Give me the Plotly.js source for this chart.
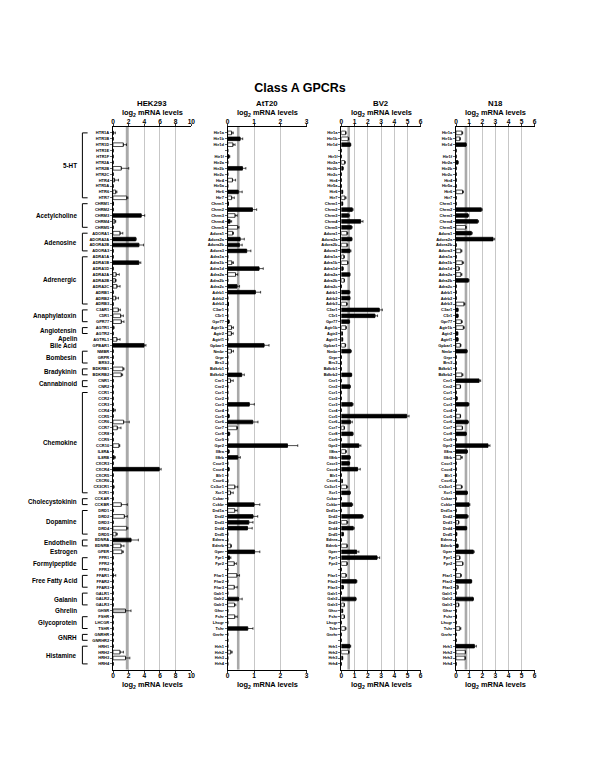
<!DOCTYPE html>
<html><head><meta charset="utf-8">
<script src="https://cdn.plot.ly/plotly-3.0.1.min.js"></script>
<style>html,body{margin:0;padding:0;background:#fff}#chart{width:600px;height:776px}</style>
</head><body><div id="chart"></div>
<script>
// ---------- categories ----------
const humanLabels = [
 'HTR1A','HTR1B','HTR1D','HTR1E','HTR1F','HTR2A','HTR2B','HTR2C','HTR4','HTR5A','HTR6','HTR7',
 'CHRM1','CHRM2','CHRM3','CHRM4','CHRM5',
 'ADORA1','ADORA2A','ADORA2B','ADORA3',
 'ADRA1A','ADRA1B','ADRA1D','ADRA2A','ADRA2B','ADRA2C','ADRB1','ADRB2','ADRB3',
 'C3AR1','C5R1','GPR77',
 'AGTR1','AGTR2',
 'AGTRL1',
 'GPBAR1',
 'NMBR','GRPR','BRS3',
 'BDKRB1','BDKRB2',
 'CNR1','CNR2',
 'CCR1','CCR2','CCR3','CCR4','CCR5','CCR6','CCR7','CCR8','CCR9','CCR10','IL8RA','IL8RB','CXCR3','CXCR4','CXCR5','CXCR6','CX3CR1','XCR1',
 'CCKAR','CCKBR',
 'DRD1','DRD2','DRD3','DRD4','DRD5',
 'EDNRA','EDNRB',
 'GPER',
 'FPR1','FPR2','FPR3',
 'FFAR1','FFAR2','FFAR3',
 'GALR1','GALR2','GALR3',
 'GHSR',
 'FSHR','LHCGR','TSHR',
 'GNRHR','GNRHR2',
 'HRH1','HRH2','HRH3','HRH4'];
const mouseLabels = [
 'Htr1a','Htr1b','Htr1d','','Htr1f','Htr2a','Htr2b','Htr2c','Htr4','Htr5a','Htr6','Htr7',
 'Chrm1','Chrm2','Chrm3','Chrm4','Chrm5',
 'Adora1','Adora2a','Adora2b','Adora3',
 'Adra1a','Adra1b','Adra1d','Adra2a','Adra2b','Adra2c','Adrb1','Adrb2','Adrb3',
 'C3ar1','C5r1','Gpr77',
 'Agtr1b','Agtr2',
 'Agtrl1',
 'Gpbar1',
 'Nmbr','Grpr','Brs3',
 'Bdkrb1','Bdkrb2',
 'Cnr1','Cnr2',
 'Ccr1','Ccr2','Ccr3','Ccr4','Ccr5','Ccr6','Ccr7','Ccr8','Ccr9','Gpr2','Il8ra','Il8rb','Cxcr3','Cxcr4','Blr1','Cxcr6','Cx3cr1','Xcr1',
 'Cckar','Cckbr',
 'Drd1a','Drd2','Drd3','Drd4','Drd5',
 'Ednra','Ednrb',
 'Gper',
 'Fpr1','Fpr2','',
 'Ffar1','Ffar2','Ffar3',
 'Galr1','Galr2','Galr3',
 'Ghsr',
 'Fshr','Lhcgr','Tshr',
 'Gnrhr','',
 'Hrh1','Hrh2','Hrh3','Hrh4'];
const groupNames = ['5-HT','Acetylcholine','Adenosine','Adrenergic','Anaphylatoxin','Angiotensin','Apelin','Bile Acid',
 'Bombesin','Bradykinin','Cannabinoid','Chemokine','Cholecystokinin','Dopamine','Endothelin','Estrogen',
 'Formylpeptide','Free Fatty Acid','Galanin','Ghrelin','Glycoprotein','GNRH','Histamine'];
const groupSizes = [12,5,4,9,3,2,1,1,3,2,2,18,2,5,2,1,3,3,3,1,3,2,4];

const panelNames = ['HEK293','AtT20','BV2','N18'];
const axisMax = [10,3,6,6];
const axisStep = [2,1,1,1];
const thresholds = [1.8,0.4,0.56,0.76];

// ---------- values (log2 mRNA levels), errors, fill codes k=black w=white g=gray ----------
const hekVal = [
 0.05,0,1.32,0,0,0,1.06,0,0.2,0,0.35,1.75,
 0.05,0,3.6,0.25,0,
 0.9,2.9,3.3,0,
 0,3.3,0,0.4,0.3,0.5,0,0.35,0,
 0.68,0.98,1.06,
 0.05,0,
 0.5,
 3.96,
 0,0,0,
 1.28,1.06,
 0,0,
 0,0,0,0.1,0,1.36,0.55,0,0,0.77,0,0.15,0,5.9,0,0,0.05,0,
 0,1.06,
 0,1.45,0,1.75,0.4,
 2.3,1.02,
 1.15,
 0,0,0,
 0.05,0,0,
 0,0,0,
 1.6,
 0,0,0,
 0,0,
 0,0.9,1.6,0];
const hekErr = [
 0.25,0,0.4,0,0,0,0.95,0,0.5,0,0.15,0.15,
 0,0,0.45,0.1,0,
 0.35,0.05,0.6,0,
 0,0.25,0,0.4,0.1,0.4,0,0.35,0,
 0.26,0.34,0.34,
 0.1,0,
 0.4,
 0.25,
 0,0,0,
 0.13,0.17,
 0,0,
 0,0,0,0.2,0,0.72,0.47,0,0,0.1,0,0.15,0,0.25,0,0,0.1,0,
 0,0.77,
 0,0.38,0,0.15,0.15,
 0.94,0.38,
 0.17,
 0,0,0,
 0.3,0,0,
 0,0,0,
 0.7,
 0,0,0,
 0,0,
 0,0.43,0.55,0];
const hekCol = [
 'w','w','w','w','w','w','w','w','w','w','w','w',
 'k','k','k','w','k',
 'w','k','k','k',
 'k','k','k','w','w','w','k','w','k',
 'w','w','w',
 'w','w',
 'w',
 'k',
 'k','k','k',
 'w','w',
 'k','k',
 'k','k','k','k','k','w','w','k','k','w','k','k','k','k','k','k','w','k',
 'k','w',
 'k','w','k','w','w',
 'k','w',
 'w',
 'k','k','k',
 'w','k','k',
 'k','k','k',
 'g',
 'k','k','k',
 'k','k',
 'k','w','w','k'];

const att20Val = [
 0.15,0.47,0.2,0,0.05,0,0.56,0,0.18,0,0.4,0.15,
 0.03,0.94,0.28,0.09,0.38,
 0.19,0.47,0.44,0.72,
 0,0.16,1.19,0.3,0,0.35,1.05,0,0.03,
 0,0,0.05,
 0.15,0.14,
 0,
 1.38,
 0.14,0,0,
 0,0.53,
 0.11,0,
 0,0,0.82,0,0.05,0.95,0.35,0.06,0,2.27,0.05,0.38,0,0.05,0,0,0.27,0.11,
 0,1.0,
 0.27,0.96,0.8,0.75,0,
 0,0.12,
 1.02,
 0.07,0.25,0,
 0.35,0,0.25,
 0,0.41,0.26,
 0,
 0.27,0,0.76,
 0,0,
 0,0.12,0,0];
const att20Err = [
 0.06,0.1,0.08,0,0.03,0,0.13,0,0.12,0,0.15,0.1,
 0,0.16,0.08,0.06,0.05,
 0.03,0.16,0.11,0.16,
 0,0.06,0.16,0.08,0,0.1,0.2,0,0,
 0,0,0,
 0.07,0.07,
 0,
 0.19,
 0.08,0,0,
 0,0.1,
 0.1,0,
 0,0,0.19,0,0,0.2,0.02,0.02,0,0.39,0,0.1,0,0,0,0,0.11,0.1,
 0,0.22,
 0.09,0.18,0.16,0.18,0,
 0,0.02,
 0.2,
 0.05,0.08,0,
 0.1,0,0.11,
 0,0.14,0.05,
 0,
 0.09,0,0.2,
 0,0,
 0,0.05,0,0];
const att20Col = [
 'w','k','w','k','k','k','k','k','w','k','k','w',
 'k','k','w','k','w',
 'w','k','k','k',
 'k','w','k','w','k','k','k','k','k',
 'k','k','k',
 'w','w',
 'k',
 'k',
 'w','k','k',
 'k','k',
 'w','k',
 'k','k','k','k','k','k','w','k','k','k','k','k','k','k','k','k','w','w',
 'k','k',
 'w','k','k','k','k',
 'k','w',
 'k',
 'k','w','k',
 'w','k','w',
 'k','k','w',
 'k',
 'w','k','k',
 'k','k',
 'k','w','k','k'];

const bv2Val = [
 0.33,0.53,0.68,0,0,0.25,0.13,0,0,0,0.1,0.28,
 0.1,0.83,0.55,1.46,0.76,
 0.43,0.78,0.43,0.65,
 0.2,0.48,0.13,0.63,0.22,0,0.6,0.63,0.4,
 2.87,2.54,0.6,
 0.35,0.08,
 0.1,
 0.3,
 0.7,0,0,
 0,0.76,
 0,0.65,
 0,0,0.83,0,4.94,0.68,0.22,0.86,0,1.33,0.33,0.65,0.6,1.23,0,0.08,0.4,0.65,
 0,0.8,
 0,1.6,0.43,0.9,0.15,
 0,0.43,
 1.16,
 2.7,0.43,0,
 0.35,1.13,0.15,
 0,1.08,0.22,
 0.1,
 0.22,0,0.3,
 0,0,
 0.65,0.55,0.1,0];
const bv2Err = [
 0.03,0.04,0.04,0,0,0.06,0,0,0,0,0,0.08,
 0,0.06,0.08,0.18,0.06,
 0.06,0.03,0.06,0.08,
 0.03,0.03,0,0.03,0.02,0,0.06,0.03,0.06,
 0.23,0.2,0.03,
 0.03,0,
 0,
 0.03,
 0.06,0,0,
 0,0.03,
 0,0.03,
 0,0,0.06,0,0.18,0.15,0.02,0.03,0,0.15,0.06,0.03,0.03,0.2,0,0,0.08,0.03,
 0,0.06,
 0,0.07,0.06,0.08,0,
 0,0.02,
 0.17,
 0.2,0.02,0,
 0.04,0.05,0,
 0,0.05,0.02,
 0,
 0.02,0,0.06,
 0,0,
 0.06,0.04,0,0];
const bv2Col = [
 'w','w','k','k','k','w','k','k','k','k','k','w',
 'k','k','k','k','k',
 'w','k','w','k',
 'w','w','k','k','w','k','k','k','w',
 'k','k','k',
 'w','k',
 'k',
 'w',
 'k','k','k',
 'k','k',
 'k','k',
 'k','k','k','k','k','k','w','k','k','k','w','k','k','k','k','k','w','k',
 'k','k',
 'k','k','w','k','k',
 'k','w',
 'k',
 'k','w','k',
 'w','k','k',
 'k','k','w',
 'k',
 'w','k','w',
 'k','k',
 'k','w','k','k'];

const n18Val = [
 0.46,0.3,0.76,0,0,0.15,0,0,0,0,0.5,0,
 0,1.93,0.92,1.65,0.74,
 1.17,2.82,0,0.38,
 0,0.48,0.23,0.38,0.94,0,0,0,0.61,
 0.15,0.15,0.41,
 0.56,0.13,
 0.15,
 0.33,
 0.81,0,0,
 0,0.46,
 1.76,0.33,
 0,0.08,0.94,0,0.33,0.89,0.48,0.76,0,2.44,0.84,0.38,0,0,0,0,0.41,0.84,
 0,0.99,
 0,0.86,0.2,0.79,0.05,
 0,0.15,
 1.32,
 0.28,0.51,0,
 0.36,1.17,0.15,
 0,1.3,0.2,
 0,
 0.03,0,0.3,
 0,0,
 1.4,0.71,0.69,0];
const n18Err = [
 0.05,0.02,0.02,0,0,0,0,0,0,0,0.07,0,
 0,0.07,0.05,0.07,0.05,
 0.07,0.13,0,0.07,
 0,0.1,0.02,0.07,0.05,0,0,0,0.07,
 0,0,0.07,
 0.07,0,
 0,
 0.05,
 0.05,0,0,
 0,0.07,
 0.12,0.02,
 0,0,0.05,0,0.02,0.07,0.02,0.03,0,0.15,0.03,0.1,0,0,0,0,0.07,0.03,
 0,0.07,
 0,0.07,0.02,0.03,0,
 0,0,
 0.07,
 0.02,0.02,0,
 0.05,0.03,0,
 0,0.03,0.02,
 0,
 0,0,0.07,
 0,0,
 0.15,0.02,0.02,0];
const n18Col = [
 'w','w','k','k','k','k','k','k','k','k','w','k',
 'k','k','k','k','w',
 'k','k','k','w',
 'k','w','w','w','k','k','k','k','w',
 'k','k','w',
 'w','k',
 'k',
 'w',
 'k','k','k',
 'k','w',
 'k','w',
 'k','k','k','k','w','k','w','k','k','k','k','w','k','k','k','k','w','k',
 'k','k',
 'k','k','w','k','k',
 'k','k',
 'k',
 'w','w','k',
 'w','k','w',
 'k','k','w',
 'k',
 'k','k','w',
 'k','k',
 'k','w','w','k'];

// ---------- geometry helpers ----------
const W = 600, H = 776;
const px = v => v / W;
const py = v => 1 - v / H;
const plotTop = 127, plotBot = 669.8;
const xPix = [[113,191.3],[227.7,306.7],[341.3,420.7],[456,534.7]];
const FONT = 'Liberation Sans, Arial, Helvetica, sans-serif';
const fillMap = {k:'#000000', w:'#ffffff', g:'#c6c6c6'};

const vals = [hekVal, att20Val, bv2Val, n18Val];
const errs = [hekErr, att20Err, bv2Err, n18Err];
const cols = [hekCol, att20Col, bv2Col, n18Col];
const rowIdx = humanLabels.map((_, i) => i);

const traces = [];
const layout = {
  width: W, height: H,
  margin: {l:0, r:0, t:0, b:0},
  paper_bgcolor: '#fff', plot_bgcolor: 'rgba(0,0,0,0)',
  showlegend: false,
  bargap: 0,
  title: {text: 'Class A GPCRs', font: {family: FONT, size: 12.5, color: '#000', weight: 'bold'},
          x: 0.5, xanchor: 'center', y: py(88), yanchor: 'middle', xref: 'paper', yref: 'paper'},
  shapes: [], annotations: []
};

for (let p = 0; p < 4; p++) {
  const n = p + 1;
  const xa = 'x' + (p === 0 ? '' : n), ya = 'y' + (p === 0 ? '' : n);
  const xo = 'x' + (n + 4);
  const dom = [px(xPix[p][0]), px(xPix[p][1])];
  const err = errs[p].map(e => e > 0 ? e : null);
  const errMinus = errs[p].map(e => e > 0 ? 0 : null);
  traces.push({
    type: 'bar', orientation: 'h',
    x: vals[p], y: rowIdx, xaxis: xa, yaxis: ya,
    width: 0.62,
    marker: {color: cols[p].map(c => fillMap[c]), line: {color: '#000', width: 0.7}},
    error_x: {type: 'data', symmetric: false, array: err, arrayminus: errMinus,
              color: '#000', thickness: 0.7, width: 1.3},
    hoverinfo: 'x+y'
  });
  // carrier for the bottom tick axis
  traces.push({type: 'scatter', mode: 'markers', x: [], y: [], xaxis: xo, yaxis: ya,
               hoverinfo: 'skip', showlegend: false});

  const tickvals = [];
  for (let t = 0; t <= axisMax[p]; t += axisStep[p]) tickvals.push(t);
  const common = {
    domain: dom, range: [0, axisMax[p]], tickvals: tickvals,
    ticks: 'outside', ticklen: 2.5, tickwidth: 0.8, tickcolor: '#000',
    ticklabelstandoff: -3,
    showline: true, linecolor: '#000', linewidth: 1, zeroline: false,
    tickfont: {family: FONT, size: 6.6, color: '#000', weight: 'bold'},
    fixedrange: true
  };
  layout['xaxis' + (p === 0 ? '' : n)] = Object.assign({}, common, {
    anchor: ya, side: 'top', showgrid: true, gridcolor: '#b9b9b9', gridwidth: 0.8
  });
  layout['xaxis' + (n + 4)] = Object.assign({}, common, {
    anchor: ya, overlaying: xa, side: 'bottom', showgrid: false
  });
  layout['yaxis' + (p === 0 ? '' : n)] = {
    domain: [py(plotBot), py(plotTop)], anchor: xa,
    range: [91, -1], tickvals: rowIdx,
    ticktext: p === 0 ? humanLabels : mouseLabels,
    ticks: 'outside', ticklen: 2, tickwidth: 0.6, tickcolor: '#000',
    showline: true, linecolor: '#000', linewidth: 1, showgrid: false, zeroline: false,
    tickfont: {family: FONT, size: 4, color: '#000', weight: 'bold'},
    fixedrange: true
  };
  // threshold band
  layout.shapes.push({type: 'line', xref: xa, yref: ya, x0: thresholds[p], x1: thresholds[p],
                      y0: -1, y1: 91, layer: 'below', line: {color: '#a9a9a9', width: 2.6}});
  // panel titles
  const cx = (dom[0] + dom[1]) / 2;
  layout.annotations.push(
    {text: panelNames[p], xref: 'paper', yref: 'paper', x: cx, y: py(103.5), showarrow: false,
     xanchor: 'center', yanchor: 'middle', font: {family: FONT, size: 7.8, color: '#000', weight: 'bold'}},
    {text: 'log<sub>2</sub> mRNA levels', xref: 'paper', yref: 'paper', x: cx, y: py(113), showarrow: false,
     xanchor: 'center', yanchor: 'middle', font: {family: FONT, size: 7.4, color: '#000', weight: 'bold'}},
    {text: 'log<sub>2</sub> mRNA levels', xref: 'paper', yref: 'paper', x: cx, y: py(685), showarrow: false,
     xanchor: 'center', yanchor: 'middle', font: {family: FONT, size: 7.4, color: '#000', weight: 'bold'}}
  );
}

// family labels and brackets on the HEK293 panel
let start = 0;
const brX = px(82.4), brEnd = px(87.6), labX = px(79);
groupNames.forEach((g, i) => {
  const s = start, e = start + groupSizes[i] - 1;
  layout.annotations.push({text: g, xref: 'paper', yref: 'y', x: labX, y: (s + e) / 2,
    xanchor: 'right', yanchor: 'middle', showarrow: false,
    font: {family: FONT, size: 6.3, color: '#000', weight: 'bold'}});
  if (groupSizes[i] > 1) {
    layout.shapes.push({type: 'path', xref: 'paper', yref: 'y',
      path: 'M' + brEnd + ',' + s + ' L' + brX + ',' + s + ' L' + brX + ',' + e + ' L' + brEnd + ',' + e,
      line: {color: '#000', width: 1}});
  }
  start += groupSizes[i];
});

Plotly.newPlot('chart', traces, layout, {displayModeBar: false, staticPlot: true});
</script>
</body></html>
